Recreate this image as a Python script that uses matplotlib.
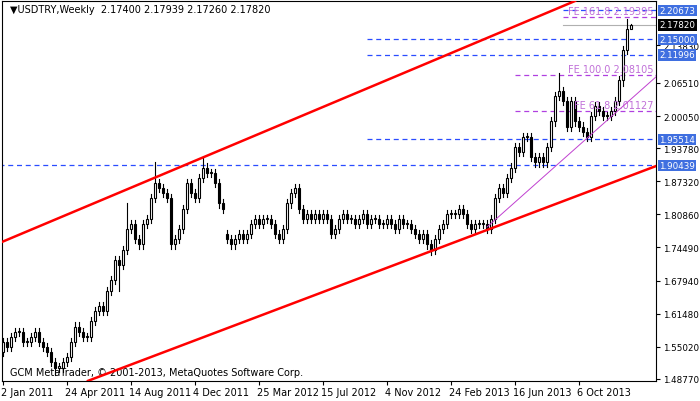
import matplotlib
matplotlib.use("Agg")
import matplotlib.pyplot as plt
from matplotlib.patches import Rectangle

# weekly closes, USDTRY, from 2 Jan 2011
closes = [
    1.56, 1.55, 1.57, 1.58, 1.58, 1.56, 1.56, 1.57, 1.58, 1.56,
    1.55, 1.54, 1.52, 1.51, 1.51, 1.52, 1.53, 1.56, 1.59, 1.58,
    1.57, 1.57, 1.60, 1.62, 1.63, 1.62, 1.66, 1.68, 1.72, 1.71,
    1.74, 1.78, 1.79, 1.76, 1.75, 1.79, 1.80, 1.84, 1.87, 1.86,
    1.85, 1.84, 1.75, 1.76, 1.78, 1.82, 1.87, 1.85, 1.84, 1.88,
    1.90, 1.89, 1.89, 1.87, 1.83, 1.82, 1.76, 1.75, 1.76, 1.77,
    1.76, 1.77, 1.79, 1.80, 1.79, 1.80, 1.80, 1.79, 1.77, 1.76,
    1.78, 1.83, 1.85, 1.86, 1.82, 1.80, 1.81, 1.80, 1.81, 1.80,
    1.81, 1.80, 1.77, 1.78, 1.80, 1.81, 1.80, 1.80, 1.79, 1.80,
    1.81, 1.79, 1.80, 1.80, 1.79, 1.79, 1.80, 1.79, 1.78, 1.80,
    1.79, 1.79, 1.78, 1.77, 1.76, 1.77, 1.75, 1.74, 1.76, 1.78,
    1.79, 1.81, 1.81, 1.81, 1.82, 1.81, 1.79, 1.78, 1.79, 1.79,
    1.79, 1.78, 1.80, 1.84, 1.86, 1.85, 1.88, 1.90, 1.94, 1.93,
    1.96, 1.96, 1.92, 1.91, 1.92, 1.91, 1.94, 1.99, 2.04, 2.05,
    2.03, 1.98, 2.03, 1.99, 1.98, 1.97, 1.96, 2.00, 2.02, 2.01,
    2.00, 2.00, 2.01, 2.03, 2.07, 2.13, 2.17, 2.1782,
]
first_open = 1.54
gap_opens = {56: 1.77}
high_over = {38: 1.91, 50: 1.92, 31: 1.83, 139: 2.085, 156: 2.19, 157: 2.1794}
low_over = {13: 1.495, 107: 1.73, 29: 1.66, 155: 2.06, 157: 2.1726}

date_labels = ["2 Jan 2011", "24 Apr 2011", "14 Aug 2011", "4 Dec 2011", "25 Mar 2012",
               "15 Jul 2012", "4 Nov 2012", "24 Feb 2013", "16 Jun 2013", "6 Oct 2013"]
date_idx = [0, 16, 32, 48, 64, 80, 96, 112, 128, 144]

price_ticks = [2.13830, 2.06510, 2.00050, 1.93780, 1.87320, 1.80860, 1.74490,
               1.67940, 1.61480, 1.55020, 1.48770]
blue_levels = [2.20673, 2.15000, 2.11996, 1.95514, 1.90439]
blue_start = [140, 91, 91, 91, -1]
fe_levels = [2.19395, 2.08105, 2.01127]
fe_names = ["FE 161.8", "FE 100.0", "FE 61.8"]
fe_start = [140, 128, 128]
bid = 2.17820

upper_ch = ([-0.25, 143.0], [1.755, 2.225])
lower_ch = ([21.25, 163.25], [1.484, 1.903])
purple_tl = ([121.0, 163.25], [1.784, 2.077])

fig = plt.figure(figsize=(7, 4.02), dpi=100)
ax = fig.add_axes([2 / 700, 20 / 402, 654 / 700, 380 / 402])
x0, x1 = -0.25, 163.25
y0, y1 = 1.4837, 2.225
ax.set_xlim(x0, x1)
ax.set_ylim(y0, y1)

# candles
prev = first_open
for i, c in enumerate(closes):
    o = gap_opens.get(i, prev)
    hi = high_over.get(i, max(o, c) + 0.008)
    lo = low_over.get(i, min(o, c) - 0.008)
    ax.plot([i, i], [lo, hi], color="black", lw=0.8, zorder=3)
    body = max(abs(c - o), 0.002)
    fc = "white" if c >= o else "black"
    ax.add_patch(Rectangle((i - 0.35, min(o, c)), 0.7, body, facecolor=fc,
                           edgecolor="black", lw=0.8, zorder=4))
    prev = c

# levels
for lvl, s in zip(blue_levels, blue_start):
    ax.plot([s, x1], [lvl, lvl], color="#2a4cff", lw=0.9, ls=(0, (4, 3)), zorder=2)
for lvl, s, n in zip(fe_levels, fe_start, fe_names):
    ax.plot([s, x1], [lvl, lvl], color="#b040e0", lw=0.9, ls=(0, (4, 3)), zorder=2)
    ax.text(x1 - 0.5, lvl + 0.002, f"{n} {lvl:.5f}", color="#c070d8", fontsize=7,
            ha="right", va="bottom", zorder=5)
ax.plot([140, x1], [bid, bid], color="#b0b0b0", lw=0.8, zorder=2)

ax.plot(*upper_ch, color="#ff0000", lw=1.8, zorder=5)
ax.plot(*lower_ch, color="#ff0000", lw=1.8, zorder=5)
ax.plot(*purple_tl, color="#c040d0", lw=0.7, zorder=5)

# axes styling
ax.set_xticks(date_idx)
ax.set_xticklabels(date_labels, fontsize=7, ha="left")
ax.tick_params(axis="x", length=3, pad=1)
ax.yaxis.tick_right()
ax.set_yticks(price_ticks)
ax.set_yticklabels([f"{p:.5f}" for p in price_ticks], fontsize=6.3)
ax.tick_params(axis="y", length=3, pad=2)
for lbl in ax.get_xticklabels():
    lbl.set_transform(lbl.get_transform() + matplotlib.transforms.ScaledTranslation(-2 / 100, 0, fig.dpi_scale_trans))
for sp in ax.spines.values():
    sp.set_color("black")
    sp.set_linewidth(0.8)

# right price boxes
for lvl in blue_levels:
    ax.text(x1 + 0.8, lvl, f"{lvl:.5f}", fontsize=6.3, color="white", va="center", ha="left",
            bbox=dict(boxstyle="square,pad=0.15", fc="#3f6fe0", ec="none"), zorder=6, clip_on=False)
ax.text(x1 + 0.8, bid, f"{bid:.5f}", fontsize=6.3, color="white", va="center", ha="left",
        bbox=dict(boxstyle="square,pad=0.15", fc="black", ec="none"), zorder=6, clip_on=False)

ax.text(0.012, 0.993, "\u25bcUSDTRY,Weekly  2.17400 2.17939 2.17260 2.17820", transform=ax.transAxes,
        fontsize=7, va="top", ha="left")
ax.text(0.012, 0.01, "GCM MetaTrader, \u00a9 2001-2013, MetaQuotes Software Corp.", transform=ax.transAxes,
        fontsize=7, va="bottom", ha="left")

fig.savefig("out.png", dpi=100, facecolor="white")
